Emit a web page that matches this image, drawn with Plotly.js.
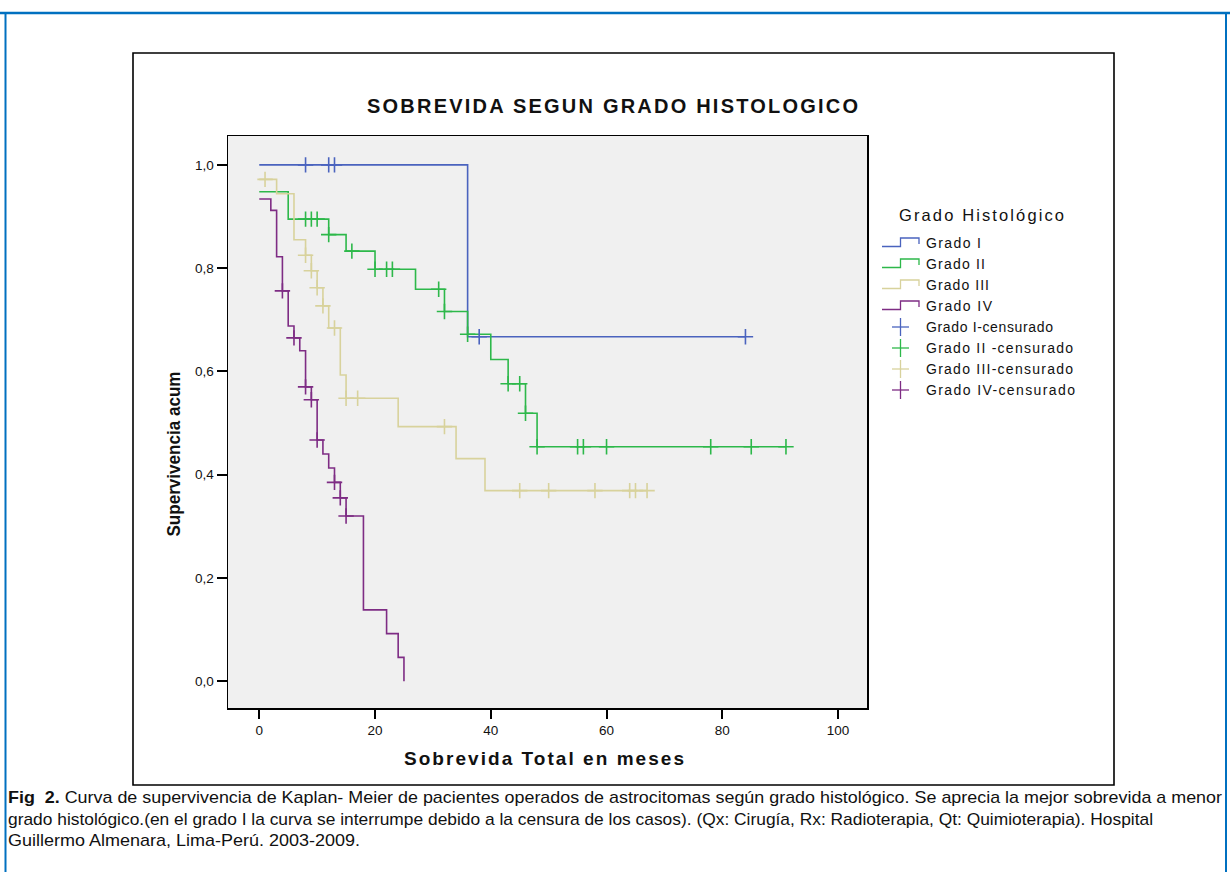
<!DOCTYPE html>
<html>
<head>
<meta charset="utf-8">
<script src="https://cdn.plot.ly/plotly-3.0.1.min.js"></script>
<style>
html,body{margin:0;padding:0;background:#fff;}
#chart{width:1230px;height:872px;}
</style>
</head>
<body>
<div id="chart"></div>
<script>
// ---------- DATA ----------
const seriesNames = ["Grado I", "Grado II", "Grado III", "Grado IV"];
const censorNames = ["Grado I-censurado", "Grado II -censurado", "Grado III-censurado", "Grado IV-censurado"];

const g1Times = [0, 36, 84];
const g1Surv  = [1.0, 0.667, 0.667];
const g1Cens  = [8, 12, 13, 38, 84];

const g2Times = [0, 5, 12, 15, 20, 27, 32, 36, 40, 43, 46, 48, 91];
const g2Surv  = [0.948, 0.895, 0.865, 0.833, 0.798, 0.759, 0.716, 0.672, 0.623, 0.576, 0.519, 0.454, 0.454];
const g2Cens  = [8, 9, 10, 12, 16, 20, 22, 23, 31, 32, 36, 43, 45, 46, 48, 55, 56, 60, 78, 85, 91];

const g3Times = [0, 3, 6, 8, 9, 10, 11, 12, 14, 15, 24, 34, 39, 67];
const g3Surv  = [0.972, 0.944, 0.855, 0.825, 0.795, 0.762, 0.727, 0.684, 0.593, 0.548, 0.493, 0.431, 0.369, 0.369];
const g3Cens  = [1, 8, 9, 10, 11, 13, 15, 17, 32, 45, 50, 58, 64, 65, 67];

const g4Times = [0, 2, 3, 4, 5, 6, 7, 8, 9, 10, 11, 12, 13, 14, 15, 18, 22, 24, 25];
const g4Surv  = [0.934, 0.912, 0.822, 0.756, 0.688, 0.665, 0.640, 0.570, 0.545, 0.467, 0.440, 0.413, 0.385, 0.355, 0.320, 0.138, 0.092, 0.046, 0.0];
const g4Cens  = [4, 6, 8, 9, 10, 13, 14, 15];

const xTickVals = [0, 20, 40, 60, 80, 100];
const yTickVals = [0, 0.2, 0.4, 0.6, 0.8, 1.0];
const yTickText = ["0,0", "0,2", "0,4", "0,6", "0,8", "1,0"];

const titleText = "SOBREVIDA SEGUN GRADO HISTOLOGICO";
const xTitle = "Sobrevida Total en meses";
const yTitle = "Supervivencia acum";
const legendTitle = "Grado Histológico";
const captionLines = [
  "<b>Fig  2.</b> Curva de supervivencia de Kaplan- Meier de pacientes operados de astrocitomas según grado histológico. Se aprecia la mejor sobrevida a menor",
  "grado histológico.(en el grado I la curva se interrumpe debido a la censura de los casos). (Qx: Cirugía, Rx: Radioterapia, Qt: Quimioterapia). Hospital",
  "Guillermo Almenara, Lima-Perú. 2003-2009."
];

// ---------- STYLE ----------
const colors = ["#4A63BE", "#2DB84A", "#D8D29C", "#7E2C84"];
const L = 228, R = 867, T = 136, B = 708, FW = 1230, FH = 872;
const W = R - L, H = B - T;
const px = x => (x - L) / W;
const py = y => (B - y) / H;
const FONT = "Liberation Sans, Arial";

function stepLookup(times, surv, t) {
  let v = surv[0];
  for (let i = 0; i < times.length; i++) { if (times[i] <= t) v = surv[i]; }
  return v;
}

const groups = [
  [g1Times, g1Surv, g1Cens],
  [g2Times, g2Surv, g2Cens],
  [g3Times, g3Surv, g3Cens],
  [g4Times, g4Surv, g4Cens]
];

const traces = [];
groups.forEach((g, i) => {
  traces.push({
    x: g[0], y: g[1], type: "scatter", mode: "lines", name: seriesNames[i],
    line: {shape: "hv", color: colors[i], width: 1.6}, showlegend: false
  });
});
groups.forEach((g, i) => {
  traces.push({
    x: g[2], y: g[2].map(t => stepLookup(g[0], g[1], t)), type: "scatter", mode: "markers",
    name: censorNames[i], showlegend: false,
    marker: {symbol: "cross-thin-open", size: 11, color: colors[i], line: {color: colors[i], width: 1.6}}
  });
});

// ---------- LEGEND (custom) + texts ----------
const shapes = [];
const annotations = [];
const fits = []; // [annotationIndex, targetLength, lengthAdjust, mode('left'|'center'), targetX]
function addAnn(a, fit) {
  annotations.push(a);
  if (fit) fits.push([annotations.length - 1].concat(fit));
}
const rowY = [243, 264, 285, 306, 327, 348, 369, 390];
const labelWidths = [55, 59, 63, 66, 127, 147, 147, 149];
for (let i = 0; i < 4; i++) {
  const y = rowY[i];
  shapes.push({
    type: "path", xref: "paper", yref: "paper",
    path: `M ${px(882)},${py(y + 3.5)} L ${px(900.5)},${py(y + 3.5)} L ${px(900.5)},${py(y - 5)} L ${px(919)},${py(y - 5)} L ${px(919)},${py(y + 1)}`,
    line: {color: colors[i], width: 1.3}
  });
  addAnn({text: seriesNames[i], xref: "paper", yref: "paper", x: px(926), y: py(y), xanchor: "left", yanchor: "middle",
    showarrow: false, font: {family: FONT, size: 14, color: "#111"}}, [labelWidths[i], "spacing", "left", 926]);
}
for (let i = 0; i < 4; i++) {
  const y = rowY[4 + i];
  shapes.push({type: "line", xref: "paper", yref: "paper", x0: px(892), x1: px(909), y0: py(y), y1: py(y), line: {color: colors[i], width: 1.3}});
  shapes.push({type: "line", xref: "paper", yref: "paper", x0: px(900.5), x1: px(900.5), y0: py(y - 9), y1: py(y + 9), line: {color: colors[i], width: 1.3}});
  addAnn({text: censorNames[i], xref: "paper", yref: "paper", x: px(926), y: py(y), xanchor: "left", yanchor: "middle",
    showarrow: false, font: {family: FONT, size: 14, color: "#111"}}, [labelWidths[4 + i], "spacing", "left", 926]);
}
addAnn({text: legendTitle, xref: "paper", yref: "paper", x: px(981.5), y: py(215), xanchor: "center", yanchor: "middle",
  showarrow: false, font: {family: FONT, size: 16.5, color: "#111"}}, [165, "spacing", "center", 981.5]);

// chart frame box
shapes.push({type: "rect", xref: "paper", yref: "paper", x0: px(133), x1: px(1114), y0: py(785), y1: py(53),
  line: {color: "#000", width: 1.6}, layer: "below"});
// blue page border
shapes.push({type: "line", xref: "paper", yref: "paper", x0: px(0), x1: px(FW), y0: py(13), y1: py(13), line: {color: "#0070C0", width: 2.5}});
shapes.push({type: "line", xref: "paper", yref: "paper", x0: px(5.5), x1: px(5.5), y0: py(13), y1: py(FH + 5), line: {color: "#0070C0", width: 2}});
shapes.push({type: "line", xref: "paper", yref: "paper", x0: px(1226), x1: px(1226), y0: py(13), y1: py(FH + 5), line: {color: "#0070C0", width: 2}});

// title
addAnn({text: "<b>" + titleText + "</b>", xref: "paper", yref: "paper", x: px(612.5), y: py(106), xanchor: "center", yanchor: "middle",
  showarrow: false, font: {family: FONT, size: 20, color: "#111"}}, [491, "spacing", "center", 612.5]);

// caption
const capY = [797, 819, 840];
const capW = [1214, 1145, 352];
captionLines.forEach((t, i) => {
  addAnn({text: t, xref: "paper", yref: "paper", x: px(8), y: py(capY[i]), xanchor: "left", yanchor: "middle", align: "left",
    showarrow: false, font: {family: FONT, size: 17, color: "#111"}}, [capW[i], "spacingAndGlyphs", "left", 8]);
});

const layout = {
  width: FW, height: FH,
  margin: {l: L, r: FW - R, t: T, b: FH - B, pad: 0},
  paper_bgcolor: "#fff", plot_bgcolor: "#F0F0F0",
  showlegend: false,
  font: {family: FONT, size: 13, color: "#111"},
  xaxis: {
    range: [-5.4, 105], tickvals: xTickVals, ticks: "outside", ticklen: 9, tickwidth: 2, tickcolor: "#000",
    showline: true, linecolor: "#000", linewidth: 1.5, mirror: true, showgrid: false, zeroline: false,
    tickfont: {family: FONT, size: 13.5, color: "#111"},
    title: {text: "<b>" + xTitle + "</b>", font: {family: FONT, size: 19, color: "#111"}, standoff: 15}
  },
  yaxis: {
    range: [-0.052, 1.056], tickvals: yTickVals, ticks: "outside", ticktext: yTickText, ticklen: 10, tickwidth: 2, tickcolor: "#000",
    showline: true, linecolor: "#000", linewidth: 1.5, mirror: true, showgrid: false, zeroline: false,
    tickfont: {family: FONT, size: 13.5, color: "#111"},
    title: {text: "<b>" + yTitle + "</b>", font: {family: FONT, size: 19, color: "#111"}, standoff: 9}
  },
  shapes: shapes,
  annotations: annotations
};

function shiftX(el, dx) {
  const nodes = [el].concat(Array.from(el.querySelectorAll("[x]")));
  nodes.forEach(n => {
    const v = parseFloat(n.getAttribute("x"));
    if (!isNaN(v)) n.setAttribute("x", v + dx);
  });
}
function fitText(el, len, adjust) {
  el.setAttribute("textLength", len);
  el.setAttribute("lengthAdjust", adjust);
}

Plotly.newPlot("chart", traces, layout, {displayModeBar: false, staticPlot: true}).then(gd => {
  const root = gd.getBoundingClientRect();
  fits.forEach(f => {
    const [idx, len, adjust, mode, tx] = f;
    const el = gd.querySelector(`g.annotation[data-index="${idx}"] text.annotation-text`);
    if (!el) return;
    fitText(el, len, adjust);
    const r = el.getBoundingClientRect();
    const cur = mode === "left" ? r.left - root.left : (r.left + r.right) / 2 - root.left;
    shiftX(el, tx - cur);
  });
  // x axis title
  const xt = gd.querySelector("text.xtitle");
  if (xt) {
    fitText(xt, 280, "spacing");
    const r = xt.getBoundingClientRect();
    shiftX(xt, 544 - ((r.left + r.right) / 2 - root.left));
  }
  // y axis title (rotated -90: local +x goes up on screen)
  const yt = gd.querySelector("text.ytitle");
  if (yt) {
    fitText(yt, 165, "spacingAndGlyphs");
    const r = yt.getBoundingClientRect();
    const cy = (r.top + r.bottom) / 2 - root.top;
    shiftX(yt, cy - 454);
  }
});
</script>
</body>
</html>
